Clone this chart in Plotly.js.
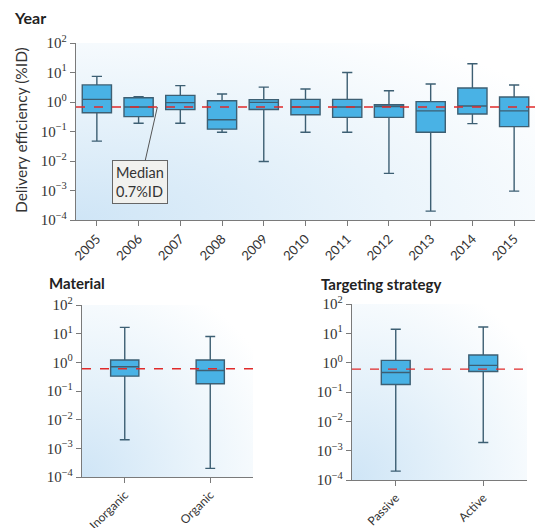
<!DOCTYPE html>
<html><head><meta charset="utf-8">
<script src="https://cdn.plot.ly/plotly-3.0.1.min.js"></script>
<style>body{margin:0;background:#fff}#c{width:535px;height:528px}</style>
</head><body><div id="c"></div>
<script>
// ---- data ----
const years = ['2005','2006','2007','2008','2009','2010','2011','2012','2013','2014','2015'];
const yearLow    = [0.047, 0.19, 0.19, 0.094, 0.0096, 0.094, 0.094, 0.0038, 0.0002, 0.185, 0.00095];
const yearQ1     = [0.43, 0.32, 0.55, 0.12, 0.56, 0.37, 0.30, 0.30, 0.094, 0.39, 0.146];
const yearMedian = [1.23, 0.68, 0.95, 0.25, 0.97, 0.68, 0.68, 0.70, 0.50, 0.73, 0.50];
const yearQ3     = [3.8, 1.4, 1.68, 1.1, 1.2, 1.23, 1.23, 0.81, 1.03, 2.97, 1.48];
const yearHigh   = [7.4, 1.5, 3.6, 1.86, 3.2, 2.75, 10, 2.4, 4.06, 19.8, 3.76];

const materials = ['Inorganic','Organic'];
const matLow    = [0.002, 0.0002];
const matQ1     = [0.33, 0.18];
const matMedian = [0.70, 0.52];
const matQ3     = [1.2, 1.2];
const matHigh   = [16.6, 8.0];

const strategies = ['Passive','Active'];
const strLow    = [0.0002, 0.0019];
const strQ1     = [0.18, 0.50];
const strMedian = [0.46, 0.81];
const strQ3     = [1.2, 1.83];
const strHigh   = [13.7, 16.5];

const overallMedianTop = 0.68;
const overallMedianBottom = 0.6;
const tickVals = [1e-4,1e-3,1e-2,1e-1,1,10,100];
const tickText = ['10<sup>−4</sup>','10<sup>−3</sup>','10<sup>−2</sup>','10<sup>−1</sup>','10<sup>0</sup>','10<sup>1</sup>','10<sup>2</sup>'];

// ---- styling ----
const FONT = 'Lato, "Open Sans", sans-serif';
const boxFill = '#49b2e5';
const boxLine = '#3d5f73';
function boxTrace(x, lo, q1, med, q3, hi, xa, ya, w){
  return {type:'box', x:x, lowerfence:lo, q1:q1, median:med, q3:q3, upperfence:hi,
    xaxis:xa, yaxis:ya, width:w, whiskerwidth:0.35, fillcolor:boxFill,
    line:{color:boxLine, width:1.4}, hoverinfo:'skip', showlegend:false, boxpoints:false};
}
const data = [
  boxTrace(years, yearLow, yearQ1, yearMedian, yearQ3, yearHigh, 'x','y',0.7),
  boxTrace(materials, matLow, matQ1, matMedian, matQ3, matHigh, 'x2','y2',0.33),
  boxTrace(strategies, strLow, strQ1, strMedian, strQ3, strHigh, 'x3','y3',0.33)
];

function xax(domain, n, fs){
  return {domain:domain, type:'category', range:[-0.5, n-0.5], showgrid:false, zeroline:false,
    showline:true, linecolor:'#7a7a7a', linewidth:1.2, ticks:'outside', ticklen:5, tickcolor:'#7a7a7a',
    tickangle:-45, tickfont:{family:FONT, size:fs, color:'#333'}, fixedrange:true};
}
function yax(domain, anchor){
  return {domain:domain, type:'log', range:[-4,2], anchor:anchor, showgrid:false, zeroline:false,
    showline:true, linecolor:'#7a7a7a', linewidth:1.2, ticks:'outside', ticklen:5, tickcolor:'#7a7a7a',
    tickvals:tickVals, ticktext:tickText, tickfont:{family:'"Liberation Serif", serif', size:15, color:'#333'}, fixedrange:true};
}

const svg = "<svg xmlns='http://www.w3.org/2000/svg' viewBox='0 0 100 100' width='100' height='100' preserveAspectRatio='none'><defs><radialGradient id='g' cx='0' cy='1' r='1.25' gradientUnits='objectBoundingBox'><stop offset='0' stop-color='#cfe5f6'/><stop offset='0.55' stop-color='#eaf4fb'/><stop offset='1' stop-color='#ffffff'/></radialGradient></defs><rect width='100' height='100' fill='url(#g)'/></svg>";
const bgSrc = 'data:image/svg+xml;base64,' + btoa(svg);
function bg(xa, ya){
  return {source:bgSrc, xref:xa+' domain', yref:ya+' domain', x:0, y:1, sizex:1, sizey:1,
    sizing:'stretch', xanchor:'left', yanchor:'top', layer:'below'};
}
function medLine(xa, ya, v){
  return {type:'line', xref:xa+' domain', yref:ya, x0:0, x1:1, y0:v, y1:v,
    line:{color:'#e02a2a', width:1.4, dash:'dash'}, layer:'above'};
}

const layout = {
  width:535, height:528, margin:{l:0,r:0,t:0,b:0}, paper_bgcolor:'#fff', plot_bgcolor:'rgba(0,0,0,0)',
  showlegend:false, font:{family:FONT, color:'#333'},
  xaxis: xax([76/535, 1], years.length, 13),
  yaxis: yax([1-220/528, 1-43/528], 'x'),
  xaxis2: Object.assign(xax([82/535, 253/535], 2, 12), {anchor:'y2'}),
  yaxis2: yax([1-477/528, 1-305/528], 'x2'),
  xaxis3: Object.assign(xax([352/535, 527/535], 2, 12), {anchor:'y3'}),
  yaxis3: yax([1-480/528, 1-304/528], 'x3'),
  images:[bg('x','y'), bg('x2','y2'), bg('x3','y3')],
  shapes:[medLine('x','y',overallMedianTop), medLine('x2','y2',overallMedianBottom), medLine('x3','y3',overallMedianBottom)],
  annotations:[
    {text:'<b>Year</b>', xref:'paper', yref:'paper', x:12/535, y:1-18/528, xanchor:'left', yanchor:'middle', showarrow:false, font:{family:FONT, size:16, color:'#222'}},
    {text:'<b>Material</b>', xref:'paper', yref:'paper', x:47/535, y:1-283/528, xanchor:'left', yanchor:'middle', showarrow:false, font:{family:FONT, size:15, color:'#222'}},
    {text:'<b>Targeting strategy</b>', xref:'paper', yref:'paper', x:319/535, y:1-284/528, xanchor:'left', yanchor:'middle', showarrow:false, font:{family:FONT, size:15, color:'#222'}},
    {text:'Delivery efficiency (%ID)', xref:'paper', yref:'paper', x:21/535, y:1-130/528, textangle:-90, xanchor:'center', yanchor:'middle', showarrow:false, font:{family:FONT, size:15.5, color:'#333'}},
    {text:'Median<br>0.7%ID', align:'left', xref:'x', yref:'y', x:1.45, y:Math.log10(overallMedianTop),
      ax:142-159, ay:183-108, showarrow:true, arrowhead:0, arrowwidth:1, arrowcolor:'#555',
      bgcolor:'#f1f1ee', bordercolor:'#666', borderwidth:1, borderpad:3, font:{family:FONT, size:14.5, color:'#333'}}
  ]
};
Plotly.newPlot('c', data, layout, {staticPlot:true});
</script></body></html>
